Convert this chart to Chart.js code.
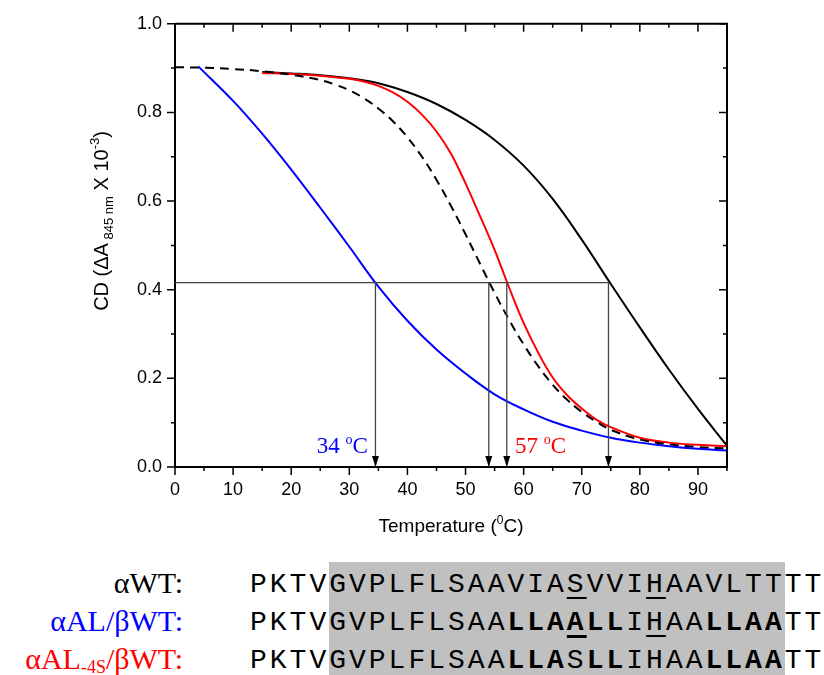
<!DOCTYPE html>
<html>
<head>
<meta charset="utf-8">
<script src="https://cdn.jsdelivr.net/npm/chart.js@4.4.1/dist/chart.umd.min.js"></script>
<style>
body{margin:0;background:#fff;}
#wrap{position:relative;width:824px;height:675px;overflow:hidden;}
#chart{position:absolute;left:0;top:0;}
.box{position:absolute;left:329px;top:562px;width:456px;height:113px;background:#c0c0c0;}
.lab{position:absolute;right:641px;font-family:"Liberation Serif","Times New Roman",serif;font-size:30px;line-height:38px;white-space:nowrap;}
.lab sub{font-size:18px;vertical-align:-4px;line-height:0;}
.seq{position:absolute;left:250px;font-family:"Liberation Mono","Courier New",monospace;font-size:28px;letter-spacing:3px;line-height:38px;white-space:pre;color:#000;}
.u{text-decoration:underline;text-decoration-thickness:2px;text-underline-offset:5px;}
b.u{text-decoration-thickness:3px;}
</style>
</head>
<body>
<div id="wrap">
  <canvas id="chart" width="824" height="540"></canvas>
  <div class="box"></div>
  <div class="lab" style="top:564px;color:#000">αWT:</div>
  <div class="lab" style="top:602px;color:#0000ff">αAL/βWT:</div>
  <div class="lab" style="top:640px;color:#ff0000">αAL<sub>-4S</sub>/βWT:</div>
  <div class="seq" style="top:566px">PKTVGVPLFLSAAVIA<span class="u">S</span>VVI<span class="u">H</span>AAVLTTTT</div>
  <div class="seq" style="top:604px">PKTVGVPLFLSAA<b>LLA</b><b class="u">A</b><b>LL</b>I<span class="u">H</span>AA<b>LLAA</b>TT</div>
  <div class="seq" style="top:642px">PKTVGVPLFLSAA<b>LLA</b>S<b>LL</b>IHAA<b>LLAA</b>TT</div>
</div>
<script>
// thermal unfolding curves
var blueTemp = [4,10,15,20,25,30,35,40,45,50,55,60,65,70,75,80,85,90,95];
var blueCD = [0.904,0.826,0.752,0.671,0.585,0.497,0.407,0.33,0.265,0.211,0.164,0.13,0.102,0.082,0.066,0.055,0.047,0.041,0.037];

var blackTemp = [15,20,25,30,35,40,45,50,55,60,65,70,75,80,85,90,95];
var blackCD = [0.891,0.888,0.884,0.877,0.866,0.846,0.819,0.783,0.738,0.68,0.605,0.513,0.413,0.315,0.22,0.131,0.048];

var redTemp = [15,20,25,30,32.5,35,37.5,40,42.5,45,47.5,50,52.5,55,57.5,60,62.5,65,67.5,70,72.5,75,80,85,90,95];
var redCD = [0.889,0.887,0.883,0.876,0.87,0.86,0.845,0.824,0.795,0.757,0.707,0.64,0.566,0.49,0.405,0.325,0.258,0.202,0.162,0.132,0.107,0.09,0.066,0.055,0.05,0.047];

var dashTemp = [0,5,10,15,20,25,27.5,30,32.5,35,37.5,40,42.5,45,47.5,50,52.5,55,57.5,60,62.5,65,67.5,70,72.5,75,80,85,90,95];
var dashCD = [0.902,0.901,0.898,0.893,0.885,0.873,0.863,0.85,0.832,0.809,0.78,0.744,0.70,0.648,0.589,0.525,0.4585,0.393,0.332,0.2765,0.2275,0.1855,0.1515,0.1245,0.1025,0.084,0.062,0.051,0.045,0.042];

// midpoint level and the melting temperatures marked with arrows
var midLevel = 0.416;
var markerTemps = [34.5, 54, 57.1, 74.6];
var tmLabels = ['34', '57'];
var tmColors = ['#0000ff', '#ff0000'];
var tmLabelTemps = [33.2, 58.5];
var tmLabelCD = 0.031;

function pts(xs, ys) {
    return xs.map(function (t, i) { return {x: t, y: ys[i]}; });
}

function curve(xs, ys, color, dash) {
    return {
        data: pts(xs, ys),
        borderColor: color,
        borderWidth: 2,
        borderDash: dash || [],
        pointRadius: 0,
        fill: false,
        tension: 0.4
    };
}

function guide(xs, ys) {
    return {
        data: pts(xs, ys),
        borderColor: '#444444',
        borderWidth: 1.3,
        pointRadius: 0,
        fill: false,
        tension: 0
    };
}

// draw a row of text pieces (size, vertical shift) starting at x
function runs(ctx, parts, x, y, family, align) {
    var w = 0;
    parts.forEach(function (p) {
        ctx.font = p.size + 'px ' + family;
        p.w = ctx.measureText(p.t).width;
        w += p.w;
    });
    var cx = align === 'right' ? x - w : (align === 'center' ? x - w / 2 : x);
    parts.forEach(function (p) {
        ctx.font = p.size + 'px ' + family;
        ctx.fillText(p.t, cx, y + (p.dy || 0));
        cx += p.w;
    });
}

var overlay = {
    id: 'overlay',
    afterDatasetsDraw: function (chart) {
        var ctx = chart.ctx, a = chart.chartArea, x = chart.scales.x, y = chart.scales.y;
        ctx.save();
        ctx.strokeStyle = '#000';
        ctx.lineWidth = 2;
        ctx.beginPath();
        ctx.moveTo(a.left, a.top);
        ctx.lineTo(a.right, a.top);
        ctx.lineTo(a.right, a.bottom);
        ctx.stroke();

        ctx.lineWidth = 1.5;
        ctx.beginPath();
        for (var v = 0; v <= 95; v += 5) {
            var px = x.getPixelForValue(v);
            var len = v % 10 === 0 ? 8 : 4;
            ctx.moveTo(px, a.bottom); ctx.lineTo(px, a.bottom + len);
            ctx.moveTo(px, a.top); ctx.lineTo(px, a.top + len);
        }
        for (var i = 0; i <= 10; i++) {
            var py = y.getPixelForValue(i / 10);
            var l = i % 2 === 0 ? 8 : 4;
            ctx.moveTo(a.left - l, py); ctx.lineTo(a.left, py);
            ctx.moveTo(a.right - l, py); ctx.lineTo(a.right, py);
        }
        ctx.stroke();

        // arrow heads
        ctx.fillStyle = '#000';
        markerTemps.forEach(function (t) {
            var ax = x.getPixelForValue(t), ay = y.getPixelForValue(0);
            ctx.beginPath();
            ctx.moveTo(ax, ay);
            ctx.lineTo(ax - 3.5, ay - 11);
            ctx.lineTo(ax + 3.5, ay - 11);
            ctx.closePath();
            ctx.fill();
        });

        // Tm labels
        var serif = '"Liberation Serif","Times New Roman",serif';
        tmLabels.forEach(function (s, k) {
            ctx.fillStyle = tmColors[k];
            runs(ctx, [{t: s + ' ', size: 23}, {t: 'o', size: 14, dy: -9}, {t: 'C', size: 23}],
                x.getPixelForValue(tmLabelTemps[k]), y.getPixelForValue(tmLabelCD), serif,
                k === 0 ? 'right' : 'left');
        });

        // axis titles
        var sans = '"Liberation Sans",Arial,sans-serif';
        ctx.fillStyle = '#000';
        runs(ctx, [{t: 'Temperature (', size: 19}, {t: '0', size: 12, dy: -8}, {t: 'C)', size: 19}],
            (a.left + a.right) / 2, 532, sans, 'center');

        ctx.translate(108, 221);
        ctx.rotate(-Math.PI / 2);
        runs(ctx, [{t: 'CD (ΔA', size: 20}, {t: ' 845 nm', size: 13, dy: 5}, {t: ' X 10', size: 20},
            {t: '-3', size: 13, dy: -9}, {t: ')', size: 20}], 0, 0, sans, 'center');
        ctx.restore();
    }
};

Chart.defaults.font.family = '"Liberation Sans", Arial, sans-serif';
Chart.defaults.font.size = 18;
Chart.defaults.color = '#000';

var midX = [0, markerTemps[3]];
var datasets = [guide(midX, [midLevel, midLevel])];
markerTemps.forEach(function (t) {
    datasets.push(guide([t, t], [midLevel, 0]));
});
datasets.push(curve(blueTemp, blueCD, '#0000ff'));
datasets.push(curve(dashTemp, dashCD, '#000000', [9, 6]));
datasets.push(curve(redTemp, redCD, '#ff0000'));
datasets.push(curve(blackTemp, blackCD, '#000000'));

new Chart(document.getElementById('chart'), {
    type: 'line',
    data: {datasets: datasets},
    options: {
        responsive: false,
        animation: false,
        layout: {padding: {left: 0, top: 21, right: 97, bottom: 0}},
        plugins: {legend: {display: false}, tooltip: {enabled: false}},
        scales: {
            x: {
                type: 'linear', min: 0, max: 95,
                grid: {display: false, drawTicks: false},
                border: {display: true, color: '#000', width: 2},
                ticks: {stepSize: 10, includeBounds: false, padding: 12, maxRotation: 0,
                    callback: function (v) { return v % 10 === 0 ? v : ''; }},
                afterFit: function (s) { s.height = 73; }
            },
            y: {
                type: 'linear', min: 0, max: 1.0,
                grid: {display: false, drawTicks: false},
                border: {display: true, color: '#000', width: 2},
                ticks: {stepSize: 0.2, padding: 13,
                    callback: function (v) { return v.toFixed(1); }},
                afterFit: function (s) { s.width = 175; }
            }
        }
    },
    plugins: [overlay]
});
</script>
</body>
</html>
